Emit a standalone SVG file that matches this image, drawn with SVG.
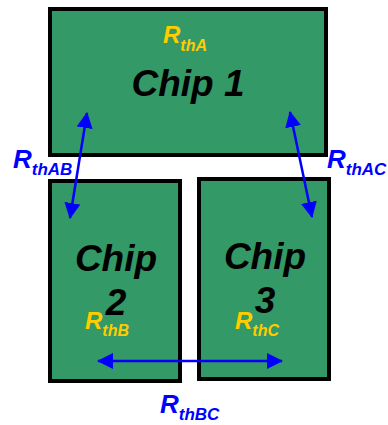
<svg xmlns="http://www.w3.org/2000/svg" width="388" height="425" viewBox="0 0 388 425">
<style>
.chip{fill:#339966;stroke:#000;stroke-width:4}
.name{font-family:"Liberation Sans",Arial,sans-serif;font-weight:bold;font-style:italic;font-size:37px;fill:#000;text-anchor:middle}
.lbl{font-family:"Liberation Sans",Arial,sans-serif;font-weight:bold;font-style:italic}
.y{fill:#FFCC00;font-size:24px}
.b{fill:#0000FF;font-size:26px}
.ys{font-size:16px}
.bs{font-size:17px}
.arr{stroke:#0000FF;stroke-width:2.5;fill:none;marker-start:url(#ah);marker-end:url(#ah)}
</style>
<defs>
<marker id="ah" markerUnits="userSpaceOnUse" viewBox="0 0 16 16" markerWidth="16" markerHeight="16" refX="15" refY="8" orient="auto-start-reverse">
<path d="M0,0 L16,8 L0,16 z" fill="#0000FF"/>
</marker>
</defs>
<g id="chip1">
<rect class="chip" x="50" y="9" width="276" height="146"/>
<text class="name" x="188" y="96">Chip 1</text>
<text class="lbl y" x="163" y="43">R<tspan class="ys" dy="8">thA</tspan></text>
</g>
<g id="chip2">
<rect class="chip" x="50" y="181" width="130" height="200"/>
<text class="name" x="116" y="271">Chip</text>
<text class="name" x="116" y="315">2</text>
<text class="lbl y" x="85" y="329">R<tspan class="ys" dy="7">thB</tspan></text>
</g>
<g id="chip3">
<rect class="chip" x="199" y="179" width="130" height="200"/>
<text class="name" x="265" y="269">Chip</text>
<text class="name" x="265" y="313">3</text>
<text class="lbl y" x="235" y="329">R<tspan class="ys" dy="7">thC</tspan></text>
</g>
<g id="connectors">
<line class="arr" x1="87" y1="113" x2="70" y2="218"/>
<line class="arr" x1="290" y1="112" x2="312" y2="217"/>
<line class="arr" x1="98" y1="361" x2="282" y2="361"/>
</g>
<g id="labels">
<text class="lbl b" x="13" y="168">R<tspan class="bs" dy="7">thAB</tspan></text>
<text class="lbl b" x="327" y="168">R<tspan class="bs" dy="7">thAC</tspan></text>
<text class="lbl b" x="160" y="413">R<tspan class="bs" dy="7">thBC</tspan></text>
</g>
</svg>
